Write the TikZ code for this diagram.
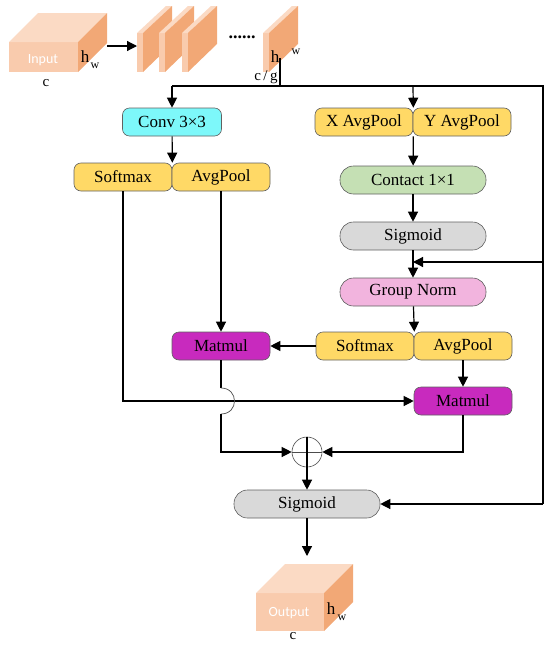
\documentclass[tikz,border=0pt]{standalone}
\usepackage{fontspec}
\setmainfont{Liberation Serif}
\newfontfamily\labfont{Carlito}
\usetikzlibrary{arrows.meta}
\definecolor{cyanc}{RGB}{125,248,250}
\definecolor{yelc}{RGB}{255,217,102}
\definecolor{greenc}{RGB}{197,224,180}
\definecolor{grayc}{RGB}{217,217,217}
\definecolor{pinkc}{RGB}{242,180,222}
\definecolor{magc}{RGB}{200,42,190}
\definecolor{cubefront}{RGB}{249,203,173}
\definecolor{cubetop}{RGB}{251,218,196}
\definecolor{cubeside}{RGB}{242,168,118}
\newcommand\mycube[5]{%
  \fill[cubefront] (#1,#2) rectangle (#1+#3,#2+#4);
  \fill[cubetop] (#1,#2) -- (#1+#5,#2-#5) -- (#1+#3+#5,#2-#5) -- (#1+#3,#2) -- cycle;
  \fill[cubeside] (#1+#3,#2) -- (#1+#3+#5,#2-#5) -- (#1+#3+#5,#2+#4-#5) -- (#1+#3,#2+#4) -- cycle;
}
\newcommand\myslice[1]{%
  \fill[cubefront] (#1,33) rectangle (#1+6,72);
  \fill[cubetop] (#1,33) -- (#1+29,6) -- (#1+35,6) -- (#1+6,33) -- cycle;
  \fill[cubeside] (#1+6,33) -- (#1+35,6) -- (#1+35,44) -- (#1+6,72) -- cycle;
}
\tikzset{
  box/.style={draw=black!62, line width=0.6pt, rounded corners=7pt, minimum height=28pt,
    inner sep=0pt, font=\fontsize{17}{18}\selectfont},
  yel/.style={box, fill=yelc, minimum width=98pt},
  pill/.style={box, rounded corners=13.5pt, minimum width=146pt},
  arr/.style={-{Triangle[length=10pt,width=10pt]}, line width=1.2pt},
  ln/.style={line width=1.2pt},
  lab/.style={inner sep=0pt, font=\fontsize{17}{18}\selectfont},
  sublab/.style={inner sep=0pt, font=\fontsize{12}{13}\selectfont},
  wlab/.style={inner sep=0pt, text=white, font=\labfont\fontsize{14}{15}\selectfont}
}
\begin{document}
\begin{tikzpicture}[x=1pt,y=-1pt]
\useasboundingbox (0,0) rectangle (550,645);
% input cube and slices
\mycube{9}{42}{69}{30}{29}
\node[wlab] (inlab) at (43,60) {Input};
\node[lab] (inh) at (85,57) {h};
\node[sublab] (inw) at (95,66) {w};
\node[lab, font=\fontsize{15}{16}\selectfont] (inc) at (46,83) {c};
\myslice{137}
\myslice{159}
\myslice{182}
\myslice{263}
\node[inner sep=0pt, font=\bfseries\fontsize{18}{18}\selectfont] (dots) at (242,37) {......};
\node[lab] (slh) at (275,57) {h};
\node[sublab] (slw) at (296,52) {w};
\node[lab, font=\fontsize{15}{16}\selectfont] (slc) at (266,77) {c\,/\,g};
\coordinate (inr) at (107,46);
\coordinate (sl) at (137,46);
\draw[arr] (inr) -- (sl);
% nodes
\node[box, fill=cyanc, minimum width=99pt] (conv) at (172,122) {Conv 3×3};
\node[yel] (sm1) at (123,177) {Softmax};
\node[yel] (ap1) at (221,177) {AvgPool};
\node[yel] (xap) at (364,122) {X AvgPool};
\node[yel] (yap) at (462,122) {Y AvgPool};
\node[pill, fill=greenc] (ct) at (413,180) {Contact 1×1};
\node[pill, fill=grayc] (sg1) at (413,236) {Sigmoid};
\node[pill, fill=pinkc] (gn) at (413,292) {Group Norm};
\node[yel] (sm2) at (365,346) {Softmax};
\node[yel] (ap2) at (463,346) {AvgPool};
\node[box, fill=magc, minimum width=98pt] (mm1) at (221,346) {Matmul};
\node[box, fill=magc, minimum width=98pt] (mm2) at (463,401) {Matmul};
\node[circle, draw=black!70, line width=0.6pt, minimum size=30pt, inner sep=0pt] (plus) at (307,452) {};
\node[pill, fill=grayc] (sg2) at (307,504) {Sigmoid};
% coordinates
\coordinate (slb) at (280,58);
\coordinate (sp) at (280,86);
\coordinate (tl) at (172,86);
\coordinate (tm) at (413,86);
\coordinate (tr) at (543,86);
\coordinate (rj) at (543,262);
\coordinate (mj) at (413,262);
\coordinate (br) at (543,504);
\coordinate (oarr) at (307,556);
% connectors
\draw[ln] (slb) -- (sp);
\draw[ln] (tl) -- (tr) -- (br);
\draw[arr] (tl) -- (conv.north);
\draw[arr] (tm) -- (xap.north east);
\draw[arr] (conv) -- (sm1.north east);
\draw[arr] (xap.south east) -- (ct);
\draw[arr] (ct) -- (sg1);
\draw[arr] (sg1) -- (gn);
\draw[arr] (rj) -- (mj);
\draw[arr] (gn) -- (sm2.north east);
\draw[arr] (sm2) -- (mm1);
\draw[arr] (ap1) -- (mm1);
\draw[arr] (ap2) -- (mm2);
\draw[arr] (sm1.south) |- (mm2.west);
\draw[ln] (mm1.south) -- (221,388);
\draw[line width=0.7pt, black!70] (221,388) .. controls (239,388) and (239,414) .. (221,414);
\draw[arr] (221,414) |- (plus.west);
\draw[arr] (mm2.south) |- (plus.east);
\draw[line width=0.6pt, black!70] (plus.west) -- (plus.east);
\draw[arr] (plus.north) -- (sg2.north);
\draw[arr] (br) -- (sg2.east);
\draw[arr] (sg2.south) -- (oarr);
% output cube
\mycube{256}{593}{68}{38}{29}
\node[wlab] (outlab) at (289,613) {Output};
\node[lab] (outh) at (331,609) {h};
\node[sublab] (outw) at (342,618) {w};
\node[lab, font=\fontsize{15}{16}\selectfont] (outc) at (293,636) {c};
\end{tikzpicture}
\end{document}
